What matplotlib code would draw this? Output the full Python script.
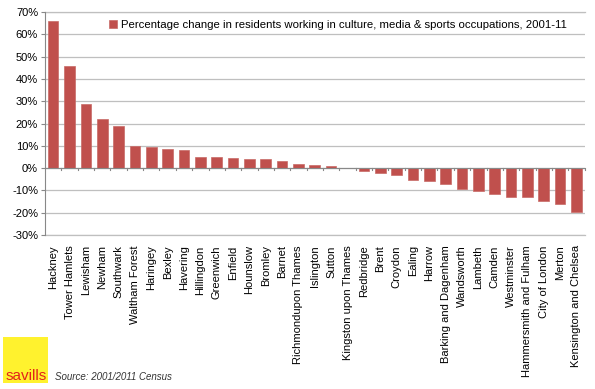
import matplotlib
matplotlib.use("Agg")
import matplotlib.pyplot as plt
from matplotlib.patches import Rectangle
import numpy as np

boroughs = ["Hackney", "Tower Hamlets", "Lewisham", "Newham", "Southwark", "Waltham Forest",
            "Haringey", "Bexley", "Havering", "Hillingdon", "Greenwich", "Enfield", "Hounslow",
            "Bromley", "Barnet", "Richmondupon Thames", "Islington", "Sutton",
            "Kingston upon Thames", "Redbridge", "Brent", "Croydon", "Ealing", "Harrow",
            "Barking and Dagenham", "Wandsworth", "Lambeth", "Camden", "Westminster",
            "Hammersmith and Fulham", "City of London", "Merton", "Kensington and Chelsea"]
pct_change = [66.0, 45.6, 28.8, 22.0, 18.7, 9.9, 9.4, 8.5, 8.2, 5.1, 5.1, 4.5, 4.0, 3.9, 3.4,
              1.8, 1.6, 1.0, 0.1, -1.2, -2.0, -3.1, -5.5, -6.0, -7.0, -9.5, -10.3, -11.7,
              -12.8, -13.1, -14.9, -16.0, -19.8]
yticks = [-30, -20, -10, 0, 10, 20, 30, 40, 50, 60, 70]
legend_label = "Percentage change in residents working in culture, media & sports occupations, 2001-11"

plt.rcParams['font.family'] = ['Liberation Sans', 'DejaVu Sans']

fig = plt.figure(figsize=(5.95, 3.89), dpi=100)
ax = fig.add_axes([0.0756, 0.396, 0.907, 0.573])

x = np.arange(len(boroughs))
ax.bar(x, pct_change, width=0.65, color="#C0504D", edgecolor="#C86A67", linewidth=0.5,
       label=legend_label, zorder=3)

ax.set_xlim(-0.5, len(boroughs) - 0.5)
ax.set_ylim(-30, 70)
ax.set_yticks(yticks)
ax.set_yticklabels([f"{v}%" for v in yticks], fontsize=8, color="#000000")
ax.yaxis.grid(True, color="#BFBFBF", linewidth=0.9, zorder=0)
ax.axhline(-30, color="#BFBFBF", linewidth=0.9, zorder=0, clip_on=False)
ax.axhline(70, color="#BFBFBF", linewidth=0.9, zorder=0, clip_on=False)
ax.tick_params(axis='y', length=3, width=0.8, color="#888888", pad=2)

ax.set_xticks(x)
ax.set_xticklabels(boroughs, rotation=90, fontsize=8, va='top', ha='center')
ax.tick_params(axis='x', length=0, pad=7.5)

for s in ["top", "right", "bottom"]:
    ax.spines[s].set_visible(False)
ax.spines["left"].set_color("#888888")
ax.spines["left"].set_linewidth(0.8)

# zero axis line with tick marks at category boundaries
ax.axhline(0, color="#888888", linewidth=0.8, zorder=4)
for b in np.arange(-0.5, len(boroughs) + 0.5, 1.0)[1:]:
    ax.plot([b, b], [0, -0.9], color="#888888", linewidth=0.8, zorder=4, clip_on=False)

leg = ax.legend(loc="upper right", bbox_to_anchor=(0.975, 0.985), frameon=False, fontsize=8.2,
                handlelength=0.7, handleheight=0.7, handletextpad=0.3, borderaxespad=0)

# logo and source
fig.patches.append(Rectangle((3 / 595, 1 - 383 / 389), 45 / 595, 46 / 389,
                             transform=fig.transFigure, facecolor="#FFF22E", edgecolor="none"))
fig.text(26 / 595, 1 - 380 / 389, "savills", color="#E2231A", fontsize=11, va="baseline",
         ha="center")
fig.text(55 / 595, 1 - 380 / 389, "Source: 2001/2011 Census", color="#333333", fontsize=7,
         style="italic", va="baseline")

fig.savefig("out.png", dpi=100)
